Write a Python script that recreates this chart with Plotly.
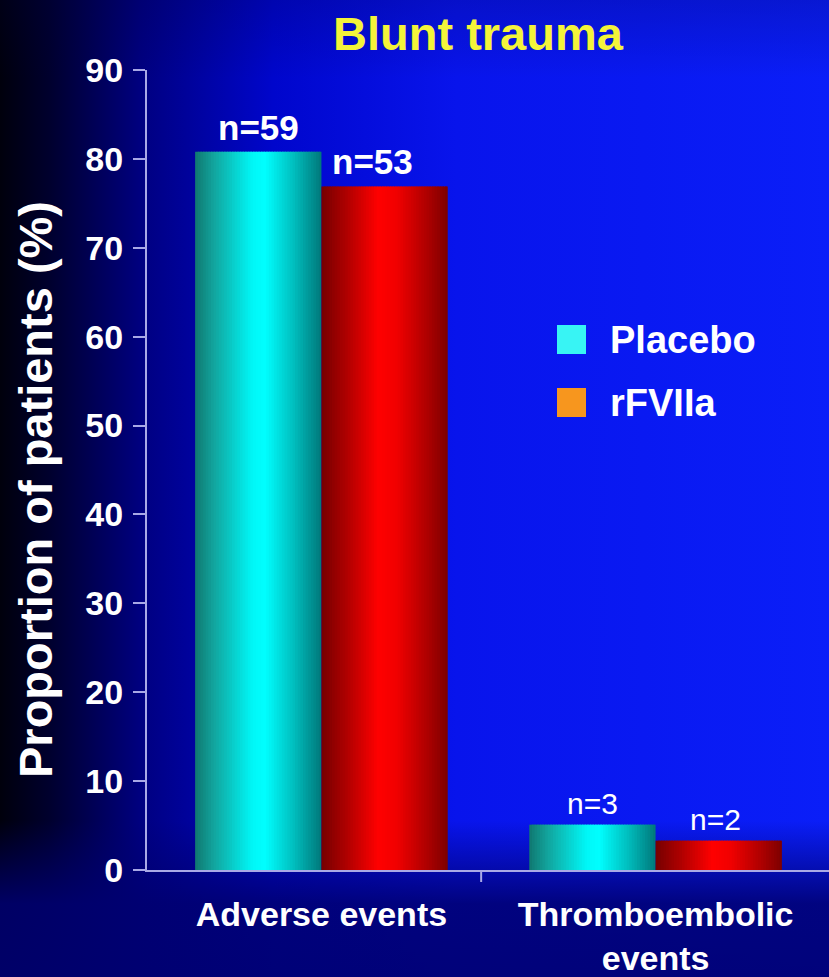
import base64
import plotly.graph_objects as go

# ---- data -------------------------------------------------------------
categories = ["Adverse events", "Thromboembolic<br>events"]
series_names = ["Placebo", "rFVIIa"]
placebo_pct = [80.8, 5.1]
rfviia_pct = [76.9, 3.3]
placebo_n = ["n=59", "n=3"]
rfviia_n = ["n=53", "n=2"]
y_tick_values = [0, 10, 20, 30, 40, 50, 60, 70, 80, 90]

# ---- figure geometry / style -------------------------------------------
W, H = 829, 977
FONT = "Liberation Sans, Arial, Helvetica, sans-serif"
AXIS_COLOR = "#a9a9e6"
BAR_W = 0.378          # width of a single bar in category units
N_STRIPS = 48          # vertical strips used to shade each bar like a cylinder

placebo_stops = [(0.0, (16, 120, 112)), (0.15, (18, 165, 158)), (0.45, (0, 246, 246)),
                 (0.55, (0, 255, 255)), (0.78, (0, 190, 190)), (1.0, (0, 120, 122))]
rfviia_stops = [(0.0, (118, 0, 0)), (0.2, (175, 0, 0)), (0.45, (255, 0, 0)),
                (0.6, (240, 0, 0)), (0.85, (170, 0, 0)), (1.0, (125, 0, 0))]


def shade(stops, t):
    for (t0, c0), (t1, c1) in zip(stops[:-1], stops[1:]):
        if t0 <= t <= t1:
            f = (t - t0) / (t1 - t0) if t1 > t0 else 0
            c = [round(a + (b - a) * f) for a, b in zip(c0, c1)]
            return "rgb({},{},{})".format(*c)
    return "rgb({},{},{})".format(*stops[-1][1])


def px(x):
    return x / W


def py(y):
    return 1 - y / H


fig = go.Figure()

# Each bar is drawn as a set of thin bars with the same value, so the
# horizontal shading gives the rounded look of the columns.
dw = BAR_W / N_STRIPS
for values, stops, start in [(placebo_pct, placebo_stops, -BAR_W),
                             (rfviia_pct, rfviia_stops, 0.0)]:
    for k in range(N_STRIPS):
        off = start + k * dw
        width = min(dw * 1.6, BAR_W - k * dw)
        fig.add_trace(go.Bar(
            x=categories, y=values,
            offset=off, width=width,
            marker=dict(color=shade(stops, (k + 0.5) / N_STRIPS), line=dict(width=0)),
            showlegend=False, hoverinfo="skip",
        ))

# ---- background ---------------------------------------------------------
svg = f"""<svg xmlns='http://www.w3.org/2000/svg' width='{W}' height='{H}' viewBox='0 0 {W} {H}' preserveAspectRatio='none'>
<defs>
<linearGradient id='h' x1='0' y1='0' x2='1' y2='0'>
<stop offset='0' stop-color='#00000c'/>
<stop offset='0.06' stop-color='#00002e'/>
<stop offset='0.17' stop-color='#000080'/>
<stop offset='0.33' stop-color='#0006cc'/>
<stop offset='0.55' stop-color='#0814ec'/>
<stop offset='1' stop-color='#0a1ef8'/>
</linearGradient>
<linearGradient id='v' x1='0' y1='0' x2='0' y2='1'>
<stop offset='0' stop-color='#000040' stop-opacity='0.2'/>
<stop offset='0.08' stop-color='#000040' stop-opacity='0'/>
<stop offset='0.84' stop-color='#000070' stop-opacity='0'/>
<stop offset='0.925' stop-color='#000070' stop-opacity='0.88'/>
<stop offset='1' stop-color='#000070' stop-opacity='0.92'/>
</linearGradient>
</defs>
<rect width='{W}' height='{H}' fill='url(#h)'/>
<rect width='{W}' height='{H}' fill='url(#v)'/>
</svg>"""
bg_src = "data:image/svg+xml;base64," + base64.b64encode(svg.encode()).decode()

# ---- annotations --------------------------------------------------------
annotations = [
    dict(text="<b>Blunt trauma</b>", x=px(478), y=py(34), xref="paper", yref="paper",
         xanchor="center", yanchor="middle", showarrow=False,
         font=dict(family=FONT, size=47, color="#f4f43a")),
    dict(text="<b>Proportion of patients (%)</b>", x=px(36), y=py(490), xref="paper",
         yref="paper", xanchor="center", yanchor="middle", textangle=-90, showarrow=False,
         font=dict(family=FONT, size=47, color="white")),
]

label_sizes = [35, 30]
for i in range(len(categories)):
    bold = i == 0
    for val, lab, xc, xs in [(placebo_pct[i], placebo_n[i], i - BAR_W / 2, 0),
                             (rfviia_pct[i], rfviia_n[i], i + BAR_W / 2, -12 if i == 0 else -3)]:
        annotations.append(dict(
            text=f"<b>{lab}</b>" if bold else lab, x=xc, y=val, xref="x", yref="y",
            xanchor="center", yanchor="bottom", yshift=3, xshift=xs, showarrow=False,
            font=dict(family=FONT, size=label_sizes[i], color="white")))

# legend (drawn by hand for the large square keys)
legend_rows = [("Placebo", "#38f4f4", 325), ("rFVIIa", "#f7961e", 388)]
shapes = []
for name, col, top in legend_rows:
    shapes.append(dict(type="rect", xref="paper", yref="paper",
                       x0=px(557), x1=px(586), y0=py(top + 29), y1=py(top),
                       fillcolor=col, line=dict(width=0)))
    annotations.append(dict(text=f"<b>{name}</b>", x=px(608), y=py(top + 15),
                            xref="paper", yref="paper", xanchor="left", yanchor="middle",
                            showarrow=False, font=dict(family=FONT, size=38, color="white")))

# divider tick between the two categories
shapes.append(dict(type="line", xref="x", yref="paper", x0=0.478, x1=0.478,
                   y0=py(870), y1=py(882), line=dict(color=AXIS_COLOR, width=2)))

fig.update_layout(
    width=W, height=H, autosize=False,
    margin=dict(l=0, r=0, t=0, b=0),
    paper_bgcolor="#00006a", plot_bgcolor="rgba(0,0,0,0)",
    barmode="overlay", showlegend=False,
    images=[dict(source=bg_src, xref="paper", yref="paper", x=0, y=1, sizex=1, sizey=1,
                 sizing="stretch", xanchor="left", yanchor="top", layer="below")],
    xaxis=dict(type="category", domain=[px(147), 1], range=[-0.522, 1.519],
               showline=True, linecolor=AXIS_COLOR, linewidth=2, ticks="",
               showgrid=False, zeroline=False, automargin=False,
               tickfont=dict(family=FONT, size=34, color="white", weight="bold"),
               ticklabelstandoff=13),
    yaxis=dict(domain=[py(870), py(70)], range=[0, 90], tickvals=y_tick_values,
               showline=True, linecolor=AXIS_COLOR, linewidth=2,
               ticks="outside", ticklen=12, tickwidth=2, tickcolor=AXIS_COLOR,
               showgrid=False, zeroline=False, automargin=False,
               tickfont=dict(family=FONT, size=34, color="white", weight="bold"),
               ticklabelstandoff=3),
    annotations=annotations, shapes=shapes,
)

fig.write_html("out.html")
